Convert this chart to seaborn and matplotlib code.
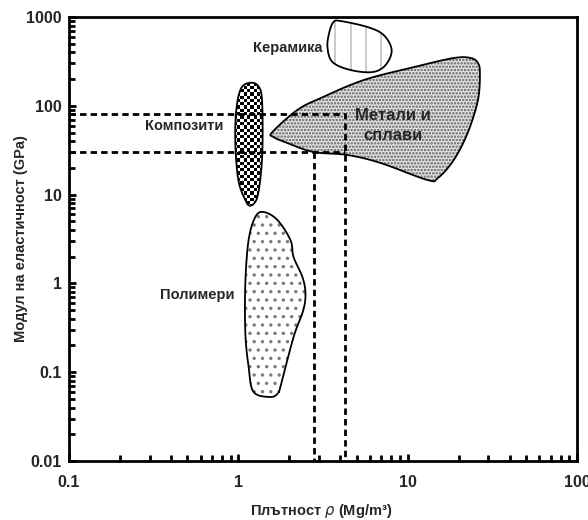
import numpy as np
import pandas as pd
import seaborn as sns
import matplotlib
matplotlib.use("Agg")
import matplotlib.pyplot as plt
from matplotlib import font_manager
from matplotlib.patches import Polygon
from matplotlib.collections import LineCollection
from matplotlib.ticker import LogLocator, FixedLocator, FixedFormatter, NullFormatter

# ---------------- data (density Mg/m^3, modulus GPa) ----------------
ceramics_rho = [3.65, 4.02, 5.79, 7.21, 8.04, 7.41, 6.21, 4.60, 3.60, 3.36, 3.45]
ceramics_E   = [879, 901, 771, 627, 425, 288, 240, 253, 311, 459, 678]

metals_rho = [1.59, 2.23, 3.06, 5.50, 10.9, 18.7, 23.6, 26.0, 26.7, 26.0, 22.6,
              18.7, 15.1, 13.1, 6.92, 4.42, 2.78, 1.95, 1.61]
metals_E   = [50.7, 89.7, 122, 195, 273, 345, 345, 303, 234, 116, 49.4,
              24.5, 15.4, 14.6, 22.7, 27.9, 30.2, 38.1, 44.6]

composites_rho = [1.19, 1.04, 0.973, 0.960, 1.00, 1.10, 1.18, 1.29, 1.36, 1.39, 1.38, 1.32]
composites_E   = [182, 158, 89.7, 38.1, 14.6, 8.69, 7.50, 9.17, 17.5, 38.1, 116, 164]

polymers_rho = [1.41, 1.26, 1.15, 1.10, 1.10, 1.15, 1.23, 1.55, 1.72, 1.77, 2.12,
                2.42, 2.49, 2.39, 2.12, 2.03, 1.70]
polymers_E   = [6.37, 5.60, 3.08, 1.01, 0.276, 0.115, 0.060, 0.0526, 0.0583, 0.068,
                0.249, 0.501, 0.780, 1.18, 1.98, 3.08, 5.18]

# reference (dashed) lines
guide_E_high = 80
guide_E_low = 30
guide_rho_high = 4.25
guide_rho_low = 2.8

# labels
label_ceramics = "Керамика"
label_metals = "Метали и\nсплави"
label_composites = "Композити"
label_polymers = "Полимери"
xlabel_text = "Плътност $\\rho$ (Mg/m³)"
ylabel_text = "Модул на еластичност (GPa)"
x_ticks = [0.1, 1, 10, 100]
x_ticklabels = ["0.1", "1", "10", "100"]
y_ticks = [0.01, 0.1, 1, 10, 100, 1000]
y_ticklabels = ["0.01", "0.1", "1", "10", "100", "1000"]

# ---------------- style ----------------
sns.set_style("white")
avail = {f.name for f in font_manager.fontManager.ttflist}
main_font = "Liberation Sans Narrow" if "Liberation Sans Narrow" in avail else "Liberation Sans"
plt.rcParams["font.family"] = [main_font, "DejaVu Sans"]
plt.rcParams["mathtext.fontset"] = "dejavusans"
plt.rcParams["hatch.linewidth"] = 1.2

fig = plt.figure(figsize=(5.88, 5.2), dpi=100)
ax = fig.add_axes([69 / 588, 1 - 461 / 520, (577 - 69) / 588, (461 - 17) / 520])
ax.set_xscale("log")
ax.set_yscale("log")
ax.set_xlim(0.1, 100)
ax.set_ylim(0.01, 1000)


def smooth_closed(xs, ys, n=24):
    """Closed Catmull-Rom outline in log space."""
    P = np.column_stack([np.log10(xs), np.log10(ys)])
    m = len(P)
    out = []
    for i in range(m):
        p0, p1, p2, p3 = P[(i - 1) % m], P[i], P[(i + 1) % m], P[(i + 2) % m]
        t = np.linspace(0, 1, n, endpoint=False)[:, None]
        seg = 0.5 * ((2 * p1) + (-p0 + p2) * t + (2 * p0 - 5 * p1 + 4 * p2 - p3) * t ** 2
                     + (-p0 + 3 * p1 - 3 * p2 + p3) * t ** 3)
        out.append(seg)
    out = np.vstack(out)
    return 10 ** out


def region(xs, ys, face, hatch=None, hatch_color="black", z=2):
    pts = smooth_closed(xs, ys)
    fill = Polygon(pts, closed=True, facecolor=face, edgecolor=hatch_color,
                   linewidth=0, hatch=hatch, zorder=z)
    ax.add_patch(fill)
    edge = Polygon(pts, closed=True, facecolor="none", edgecolor="black",
                   linewidth=1.3, zorder=z + 0.5)
    ax.add_patch(edge)
    return fill


cer = region(ceramics_rho, ceramics_E, "white")
region(metals_rho, metals_E, "#e4e4e4", hatch=".....", hatch_color="#5e5e5e")
region(polymers_rho, polymers_E, "white", hatch="..", hatch_color="#7a7a7a")
comp = region(composites_rho, composites_E, "white")

# vertical-line texture for ceramics (every ~15 px)
step_x = 10 ** (15.3 / 169.5)
line_x = 3.746 * step_x ** np.arange(-1, 6)
segs = [[(lx, 100), (lx, 1000)] for lx in line_x]
lc = LineCollection(segs, colors="#c6c6c6", linewidths=1.3, zorder=2.2)
ax.add_collection(lc)
lc.set_clip_path(cer)

# checkerboard texture for composites
sx = 10 ** (3.3 / 169.5)
sy = 10 ** (3.3 / 88.8)
xe = 0.9 * sx ** np.arange(0, 14)
ye = 6.0 * sy ** np.arange(0, 50)
C = (np.add.outer(np.arange(len(ye) - 1), np.arange(len(xe) - 1)) % 2).astype(float)
mesh = ax.pcolormesh(xe, ye, C, cmap="gray", vmin=0, vmax=1, shading="flat",
                     antialiased=False, zorder=2.2)
mesh.set_clip_path(comp)

# dashed guide lines via seaborn
guides = pd.DataFrame({
    "rho": [0.1, guide_rho_high, guide_rho_high, 0.1, guide_rho_high, guide_rho_low, guide_rho_low],
    "E":   [guide_E_high, guide_E_high, 0.01, guide_E_low, guide_E_low, guide_E_low, 0.01],
    "seg": [0, 0, 0, 1, 1, 2, 2],
})
sns.lineplot(data=guides, x="rho", y="E", units="seg", estimator=None, sort=False,
             color="black", linewidth=2.0, linestyle=(0, (2.3, 1.5)), ax=ax,
             legend=False, zorder=4)

# labels in plot
ax.text(3.14, 450, label_ceramics, ha="right", va="center", fontsize=10.5, fontweight="bold", zorder=5)
ax.text(8.15, 60, label_metals, ha="center", va="center", fontsize=12, fontweight="bold",
        linespacing=1.45, zorder=5)
ax.text(0.815, 59, label_composites, ha="right", va="center", fontsize=10.5, fontweight="bold", zorder=5)
ax.text(0.946, 0.74, label_polymers, ha="right", va="center", fontsize=10.5, fontweight="bold", zorder=5)

# axes styling
for s in ax.spines.values():
    s.set_linewidth(2.0)
    s.set_color("black")
ax.xaxis.set_major_locator(FixedLocator(x_ticks))
ax.xaxis.set_major_formatter(FixedFormatter(x_ticklabels))
ax.yaxis.set_major_locator(FixedLocator(y_ticks))
ax.yaxis.set_major_formatter(FixedFormatter(y_ticklabels))
ax.xaxis.set_minor_locator(LogLocator(base=10, subs=np.arange(2, 10)))
ax.yaxis.set_minor_locator(LogLocator(base=10, subs=np.arange(2, 10)))
ax.xaxis.set_minor_formatter(NullFormatter())
ax.yaxis.set_minor_formatter(NullFormatter())
ax.tick_params(which="both", direction="in", top=False, right=False, bottom=True, left=True,
               width=2.0, color="black")
ax.tick_params(which="major", length=5)
ax.tick_params(which="minor", length=4)
ax.tick_params(axis="x", which="major", pad=10, labelsize=11.5)
ax.tick_params(axis="y", which="major", pad=5, labelsize=11.5)
for lab in ax.get_xticklabels() + ax.get_yticklabels():
    lab.set_fontweight("bold")

ax.set_xlabel(xlabel_text, fontsize=10.5, fontweight="bold")
ax.set_ylabel(ylabel_text, fontsize=10.5, fontweight="bold")
ax.xaxis.set_label_coords((321 - 69) / 508, (461 - 502) / 444)
ax.yaxis.set_label_coords((28 - 69) / 508, 0.5)
ax.grid(False)

fig.savefig("out.png", dpi=100, facecolor="white")
